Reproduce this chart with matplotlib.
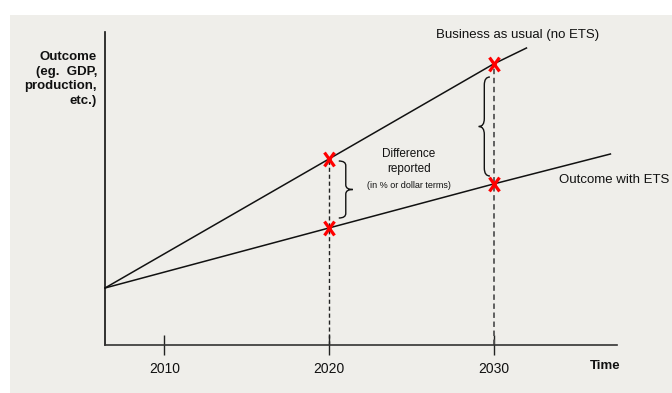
import matplotlib
matplotlib.use("Agg")
import matplotlib.pyplot as plt
from matplotlib.patches import Rectangle, PathPatch
from matplotlib.path import Path

plt.rcParams['font.family'] = ['Liberation Sans', 'DejaVu Sans']

# Data (pixel-read, arbitrary outcome units)
start_year = 2006.4
bau_years = [start_year, 2020, 2030, 2032.0]
bau_values = [57, 186, 281, 297]
ets_years = [start_year, 2020, 2030, 2037.1]
ets_values = [57, 117, 161, 191]
marker_years = [2020, 2030]
marker_bau = [186, 281]
marker_ets = [117, 161]
tick_years = [2010, 2020, 2030]
tick_labels = ["2010", "2020", "2030"]

W, H = 672, 393
fig = plt.figure(figsize=(W / 100, H / 100), dpi=100, facecolor='white')
fig.patches.append(Rectangle((10 / W, 0), 1 - 10 / W, 1 - 15 / H, transform=fig.transFigure,
                             facecolor='#efeeea', edgecolor='none', zorder=-10))

ax = fig.add_axes([105 / W, 1 - 345 / H, (617 - 105) / W, (345 - 32) / H])
ax.set_zorder(5)
ax.set_facecolor('none')
ax.set_xlim(start_year, 2037.5)
ax.set_ylim(0, 313)

for s in ['top', 'right']:
    ax.spines[s].set_visible(False)
ax.spines['left'].set_color('#111111')
ax.spines['bottom'].set_color('#333333')
ax.spines['left'].set_linewidth(1.2)
ax.spines['bottom'].set_linewidth(1.2)

ax.set_xticks(tick_years)
ax.set_xticklabels(tick_labels)
ax.set_yticks([])
ax.tick_params(axis='x', direction='inout', length=14, width=1, color='#222222',
               labelsize=10, pad=5, labelcolor='#111111')

# dashed verticals
ax.vlines(marker_years[0], 0, marker_bau[0], colors='#222222', linestyles=(0, (3, 2)), linewidth=1)
ax.vlines(marker_years[1], 0, marker_bau[1], colors='#555555', linestyles=(0, (3, 2)), linewidth=1.3)

# lines
ax.plot(bau_years, bau_values, color='#111111', linewidth=1.1, clip_on=False)
ax.plot(ets_years, ets_values, color='#111111', linewidth=1.1, clip_on=False)

# tall "x" marker
xmark = Path([(-0.36, -0.5), (0.36, 0.5), (-0.36, 0.5), (0.36, -0.5)],
             [Path.MOVETO, Path.LINETO, Path.MOVETO, Path.LINETO])
ax.plot(marker_years, marker_bau, linestyle='none', marker=xmark, color='#ff0000',
        markersize=10, markeredgewidth=2.3, zorder=5)
ax.plot(marker_years, marker_ets, linestyle='none', marker=xmark, color='#ff0000',
        markersize=10, markeredgewidth=2.3, zorder=5)


def brace(ax, x_flat, x_tip, y0, y1):
    ym = (y0 + y1) / 2
    xm = (x_flat + x_tip) / 2
    r = (y1 - y0) * 0.08
    verts = [
        (x_flat, y1), (xm, y1), (xm, y1 - r),
        (xm, ym + r),
        (xm, ym), (x_tip, ym),
        (xm, ym), (xm, ym - r),
        (xm, y0 + r),
        (xm, y0), (x_flat, y0),
    ]
    codes = [Path.MOVETO, Path.CURVE3, Path.CURVE3,
             Path.LINETO,
             Path.CURVE3, Path.CURVE3,
             Path.CURVE3, Path.CURVE3,
             Path.LINETO,
             Path.CURVE3, Path.CURVE3]
    ax.add_patch(PathPatch(Path(verts, codes), facecolor='none', edgecolor='#111111',
                           linewidth=1.0, clip_on=False))


brace(ax, 2020.6, 2021.45, 127, 184)
brace(ax, 2029.78, 2029.1, 169, 268)

ax.text(2031.45, 310, "Business as usual (no ETS)", ha='center', va='center', fontsize=9.5,
        color='#111111', clip_on=False)
ax.text(2037.35, 165, "Outcome with ETS", ha='center', va='center', fontsize=9.5,
        color='#111111', clip_on=False)
ax.text(2024.85, 183.5, "Difference\nreported", ha='center', va='center', fontsize=8.5,
        linespacing=1.35, color='#111111')
ax.text(2024.85, 159, "(in % or dollar terms)", ha='center', va='center', fontsize=6.5,
        color='#111111')

fig.text(97 / W, 1 - 79 / H, "Outcome\n(eg.  GDP,\nproduction,\netc.)", ha='right', va='center',
         fontsize=9.5, fontweight='bold', linespacing=1.3, color='#111111')
fig.text(605 / W, 1 - 366 / H, "Time", ha='center', va='center', fontsize=9.5,
         fontweight='bold', color='#111111')

fig.savefig('out.png', dpi=100, facecolor='white')
